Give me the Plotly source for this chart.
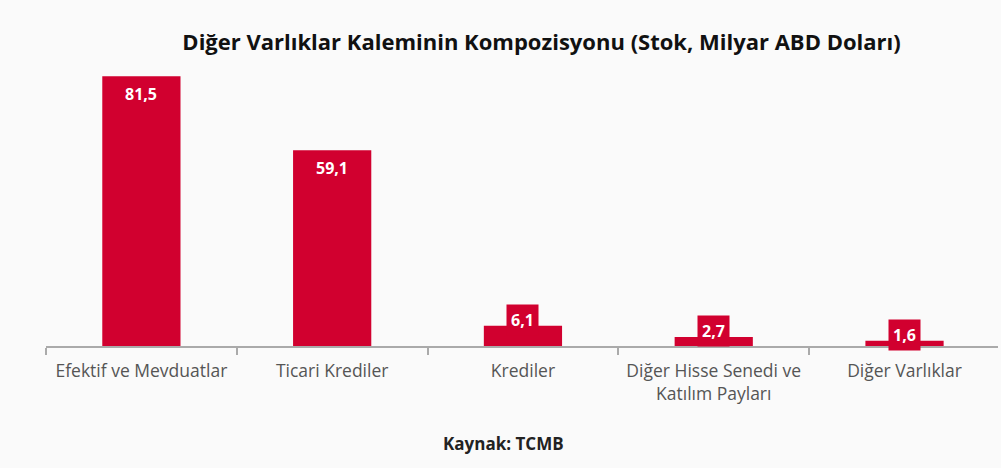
import plotly.graph_objects as go

categories = ["Efektif ve Mevduatlar", "Ticari Krediler", "Krediler",
              "Diğer Hisse Senedi ve<br>Katılım Payları", "Diğer Varlıklar"]
values = [81.5, 59.1, 6.1, 2.7, 1.6]
value_labels = ["81,5", "59,1", "6,1", "2,7", "1,6"]

RED = "#d1002f"
BG = "#fafafa"
FONT = "Open Sans"

fig = go.Figure()
fig.add_trace(go.Bar(x=categories, y=values, marker=dict(color=RED, line=dict(width=0)),
                     hoverinfo="skip"))

for c, v, lab in zip(categories, values, value_labels):
    if v >= 10:
        fig.add_annotation(x=c, y=v, text=lab, showarrow=False, yanchor="middle", yshift=-18,
                           font=dict(family=FONT, size=16, color="white", weight="bold"))
    else:
        fig.add_annotation(x=c, y=v, text=lab, showarrow=False, yanchor="middle", yshift=6,
                           bgcolor=RED, borderpad=4,
                           font=dict(family=FONT, size=16, color="white", weight="bold"))

fig.add_annotation(xref="paper", yref="paper", x=0.481, y=-0.326, xanchor="center", yanchor="middle",
                   text="<b>Kaynak: TCMB</b>", showarrow=False,
                   font=dict(family=FONT, size=17, color="#222222"))

fig.update_layout(
    width=1001, height=468,
    margin=dict(l=46, r=3, t=48, b=122),
    paper_bgcolor=BG, plot_bgcolor=BG,
    title=dict(text="<b>Diğer Varlıklar Kaleminin Kompozisyonu (Stok, Milyar ABD Doları)</b>",
               x=0.541, xanchor="center", y=0.91, yanchor="middle",
               font=dict(family=FONT, size=22, color="#111111")),
    bargap=0.59,
    showlegend=False,
    font=dict(family=FONT),
)
fig.update_xaxes(showline=True, linecolor="#aaaaaa", linewidth=1.5, ticks="outside",
                 tickson="boundaries", ticklen=7, tickcolor="#aaaaaa", tickwidth=1.5,
                 ticklabelstandoff=8,
                 tickfont=dict(family=FONT, size=17.5, color="#555555"),
                 range=[-0.5, 4.49], showgrid=False)
fig.update_yaxes(visible=False, range=[0, 90], showgrid=False, zeroline=False)

fig.write_html("out.html", config={"displayModeBar": False},
               post_script="document.body.style.margin='0';document.body.style.background='%s';" % BG)
